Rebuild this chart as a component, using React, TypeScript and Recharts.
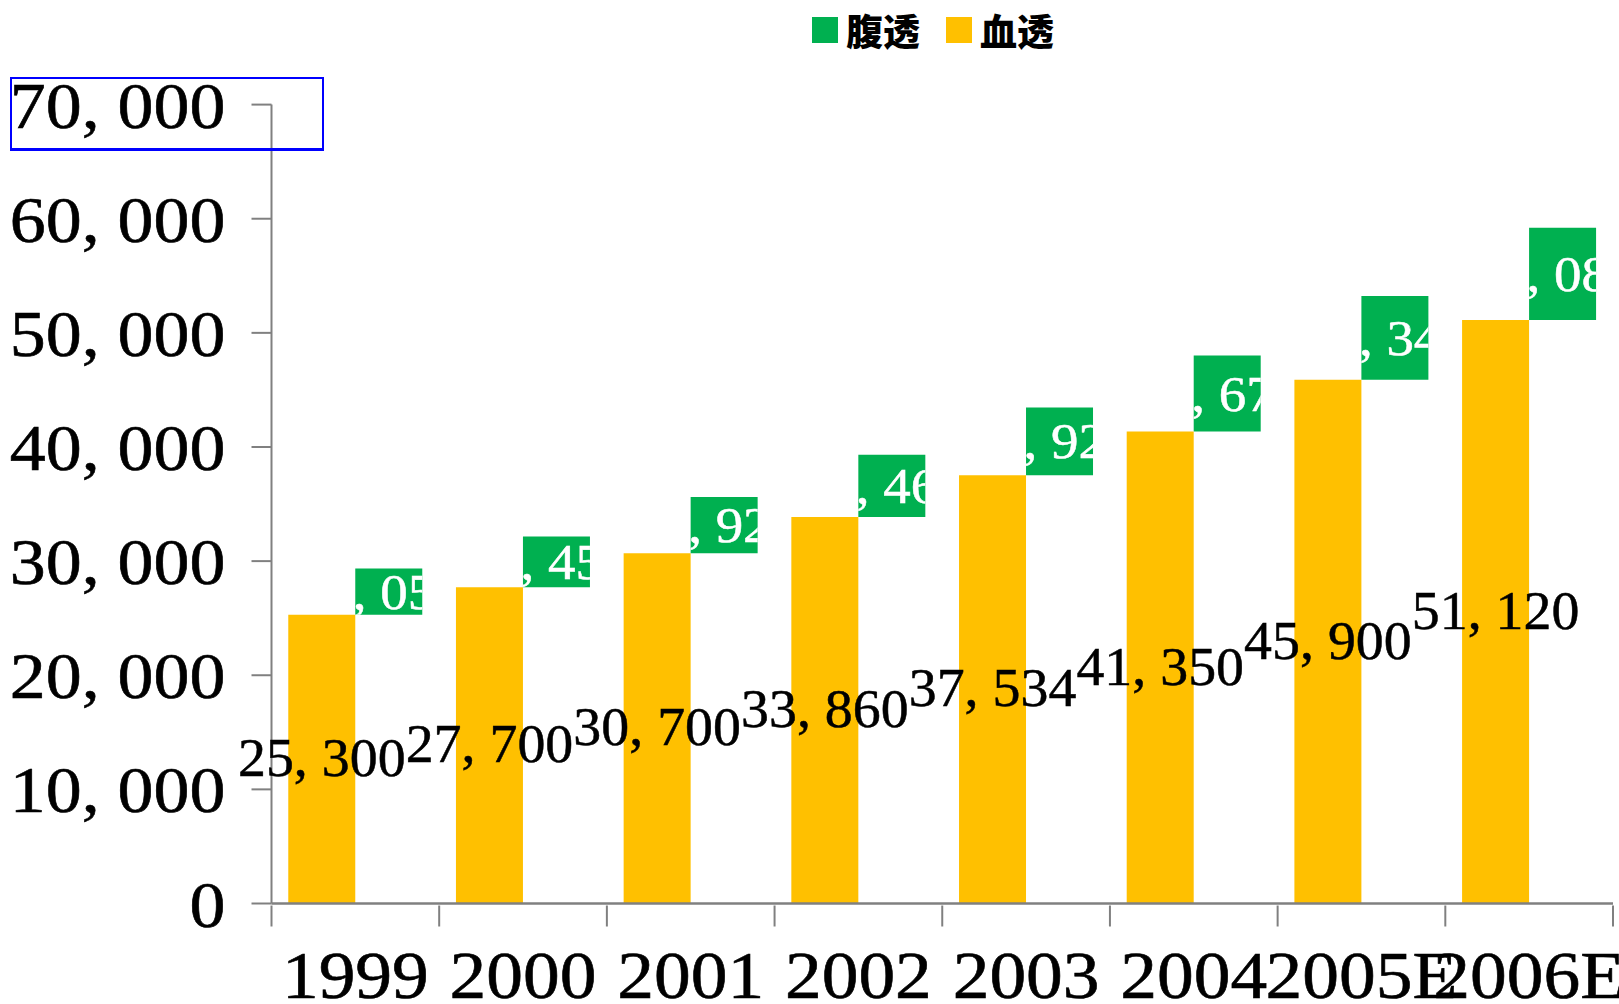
import React from 'react';
import { ComposedChart, Bar, XAxis, YAxis, Legend, LabelList } from 'recharts';

// 연도별 투석 환자수 (血透 / 腹透)
const years = ['1999', '2000', '2001', '2002', '2003', '2004', '2005E', '2006E'];
const hemoValues = [25300, 27700, 30700, 33860, 37534, 41350, 45900, 51120];
const periValues = [4050, 4450, 4920, 5460, 5920, 6670, 7340, 8080];
const yTicks = [0, 10000, 20000, 30000, 40000, 50000, 60000, 70000];
const legendNames = ['腹透', '血透'];
const legendColors = ['#00B050', '#FFC000'];

const W = 1619;
const H = 1004;
const AXIS_X = 271.5;
const PLOT_RIGHT = 1613;
const BAND = (PLOT_RIGHT - AXIS_X) / years.length;
const SERIF = '"Liberation Serif", "DejaVu Serif", serif';
const AXIS_GRAY = '#808080';

const fmt = (v: number) => v.toLocaleString('en-US').replace(/,/g, ', ');

const chartData = years.map((year, i) => ({
  year,
  血透: hemoValues[i],
  腹透: [hemoValues[i], hemoValues[i] + periValues[i]],
}));

const boxOf = (props: any) => {
  const vb = props.viewBox ?? props;
  const x = vb.x ?? props.x;
  const y = vb.y ?? props.y;
  const width = vb.width ?? props.width;
  const height = vb.height ?? props.height;
  return {
    x,
    y: Math.min(y, y + height),
    width,
    height: Math.abs(height),
  };
};

const HemoLabel = (props: any) => {
  const b = boxOf(props);
  const cx = b.x + b.width / 2;
  const cy = b.y + b.height / 2;
  return (
    <text
      transform={`translate(${cx},${cy + 17}) scale(1.035,1)`}
      textAnchor="middle"
      fontFamily={SERIF}
      fontSize={54}
      fill="#000"
      stroke="#000"
      strokeWidth={0.5}
    >
      {fmt(hemoValues[props.index])}
    </text>
  );
};

const PeriLabel = (props: any) => {
  const b = boxOf(props);
  const id = `peri-clip-${props.index}`;
  return (
    <g>
      <defs>
        <clipPath id={id}>
          <rect x={b.x} y={b.y} width={b.width} height={b.height} />
        </clipPath>
      </defs>
      <g clipPath={`url(#${id})`}>
        <text
          transform={`translate(${b.x - 30},${b.y + b.height / 2 + 17}) scale(1.1,1)`}
          fontFamily={SERIF}
          fontSize={50}
          fill="#fff"
          stroke="#fff"
          strokeWidth={0.5}
        >
          {fmt(periValues[props.index])}
        </text>
      </g>
    </g>
  );
};

const XTick = (props: any) => {
  const { x, y, payload, index } = props;
  const half = BAND / 2;
  return (
    <g>
      <line x1={x - half} x2={x - half} y1={y} y2={y + 21} stroke={AXIS_GRAY} strokeWidth={2} />
      {index === years.length - 1 && (
        <line x1={x + half} x2={x + half} y1={y} y2={y + 21} stroke={AXIS_GRAY} strokeWidth={2} />
      )}
      <text
        transform={`translate(${x},${y + 92}) scale(1.08,1)`}
        textAnchor="middle"
        fontFamily={SERIF}
        fontSize={68}
        fill="#000"
        stroke="#000"
        strokeWidth={0.6}
      >
        {payload.value}
      </text>
    </g>
  );
};

const YTick = (props: any) => {
  const { x, y, payload } = props;
  return (
    <text
      transform={`translate(${x},${y + 23}) scale(1.09,1)`}
      textAnchor="end"
      fontFamily={SERIF}
      fontSize={66}
      fill="#000"
      stroke="#000"
      strokeWidth={0.6}
    >
      {fmt(payload.value)}
    </text>
  );
};

const renderLegend = () => (
  <div style={{ position: 'relative', width: W, height: 60 }}>
    <div
      style={{
        position: 'absolute',
        left: 812,
        top: 10,
        height: 40,
        display: 'flex',
        alignItems: 'center',
        fontFamily: '"Noto Sans CJK SC", sans-serif',
        fontWeight: 900,
        fontSize: 37,
        color: '#000',
      }}
    >
      {legendNames.map((name, i) => (
        <div key={name} style={{ display: 'flex', alignItems: 'center', marginRight: 26 }}>
          <span style={{ width: 26, height: 26, background: legendColors[i], marginRight: 8 }} />
          <span style={{ lineHeight: '40px' }}>{name}</span>
        </div>
      ))}
    </div>
  </div>
);

export default function App() {
  return (
    <div style={{ position: 'absolute', left: 0, top: 0, width: W, height: H, background: '#fff' }}>
      <ComposedChart
        width={W}
        height={H}
        data={chartData}
        margin={{ top: 44.6, right: W - PLOT_RIGHT, left: 0, bottom: 10.5 }}
        barCategoryGap="10%"
        barGap={0}
      >
        <Legend
          verticalAlign="top"
          content={renderLegend}
          wrapperStyle={{ top: 0, left: 0, width: W, height: 60, margin: 0, padding: 0 }}
        />
        <XAxis
          dataKey="year"
          interval={0}
          height={90}
          tickSize={0}
          tickLine={false}
          tick={<XTick />}
          axisLine={{ stroke: AXIS_GRAY, strokeWidth: 2.5 }}
        />
        <YAxis
          width={AXIS_X}
          domain={[0, 70000]}
          ticks={yTicks}
          interval={0}
          tickSize={20}
          tickMargin={26}
          tick={<YTick />}
          tickLine={{ stroke: AXIS_GRAY, strokeWidth: 2 }}
          axisLine={{ stroke: AXIS_GRAY, strokeWidth: 2 }}
        />
        <Bar dataKey="血透" fill="#FFC000" isAnimationActive={false}>
          <LabelList dataKey="血透" content={HemoLabel} />
        </Bar>
        <Bar dataKey="腹透" fill="#00B050" isAnimationActive={false}>
          <LabelList dataKey="腹透" content={PeriLabel} />
        </Bar>
      </ComposedChart>
      <div
        style={{
          position: 'absolute',
          left: 10,
          top: 77,
          width: 310,
          height: 69,
          borderStyle: 'solid',
          borderColor: '#0000FF',
          borderWidth: '2px 2px 3px 2px',
          pointerEvents: 'none',
        }}
      />
    </div>
  );
}
